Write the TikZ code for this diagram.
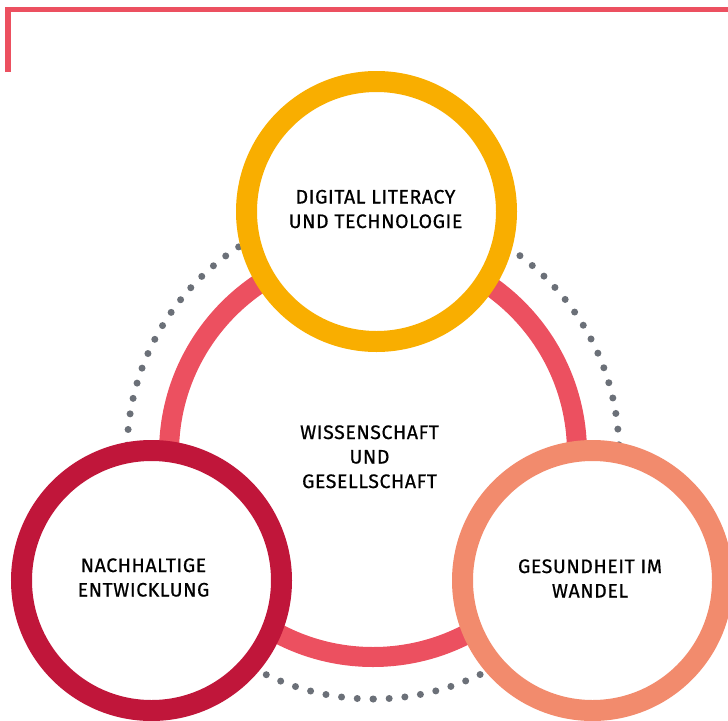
\documentclass[tikz,border=0pt]{standalone}
\usepackage{fontspec}
\setmainfont{Fira Sans}[LetterSpace=3,FakeBold=0.7]
\definecolor{ringred}{HTML}{EC5060}
\definecolor{toporange}{HTML}{F9AE00}
\definecolor{darkred}{HTML}{C0163A}
\definecolor{salmon}{HTML}{F28B6D}
\definecolor{dotgrey}{HTML}{6B7078}
\begin{document}
\begin{tikzpicture}[x=1pt,y=-1pt,
  topic/.style={circle,draw,line width=21pt,fill=white,minimum size=260pt,inner sep=0pt},
  label/.style={align=center,font=\fontsize{19.5}{24.5}\selectfont,text=black,anchor=base,inner sep=0pt},
  dotring/.style={draw=dotgrey,line width=7pt,line cap=round,dash pattern=on 0pt off 15.77pt}]
\useasboundingbox (0,0) rectangle (728,720);
% frame line
\coordinate (fa) at (8,72);
\coordinate (fb) at (8,9.5);
\coordinate (fc) at (730,9.5);
\draw[ringred,line width=5.5pt] (fa) -- (fb) -- (fc);
% rings
\coordinate (c) at (373,453);
\draw[dotring] (c) ++(0,246) arc[start angle=90,end angle=450,radius=246];
\draw[ringred,line width=20pt] (c) circle[radius=204];
% topic circles
\node[topic,draw=toporange] (top) at (376.5,211.5) {};
\node[topic,draw=darkred] (left) at (151.5,580.5) {};
\node[topic,draw=salmon] (right) at (592.5,580.5) {};
% labels (base anchor = last line)
\node[label] (ttop) at (375.5,228) {DIGITAL LITERACY\\UND TECHNOLOGIE};
\node[label] (tmid) at (369.5,488) {WISSENSCHAFT\\UND\\GESELLSCHAFT};
\node[label] (tleft) at (143.5,596.5) {NACHHALTIGE\\ENTWICKLUNG};
\node[label] (tright) at (590,597.5) {GESUNDHEIT IM\\WANDEL};
\end{tikzpicture}
\end{document}
